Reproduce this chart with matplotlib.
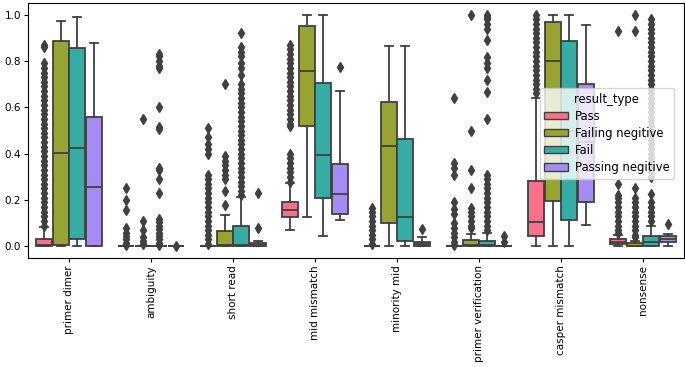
import colorsys

import matplotlib
matplotlib.use("Agg")
import matplotlib.pyplot as plt
import matplotlib.patches as mpatches
import numpy as np
import seaborn as sns

categories = ["primer dimer", "ambiguity", "short read", "mid mismatch",
              "minority mid", "primer verification", "casper mismatch", "nonsense"]
hues = ["Pass", "Failing negitive", "Fail", "Passing negitive"]

# box stats per hue, one value per category
pass_q1 = [0.0, 0.0, 0.0, 0.129, 0.0, 0.0, 0.043, 0.012]
pass_med = [0.005, 0.0, 0.0, 0.155, 0.0, 0.0, 0.105, 0.02]
pass_q3 = [0.033, 0.0, 0.0, 0.19, 0.0, 0.0, 0.283, 0.033]
pass_lo = [0.0, 0.0, 0.0, 0.072, 0.0, 0.0, 0.0, 0.0]
pass_hi = [0.085, 0.0, 0.0, 0.273, 0.0, 0.0, 0.639, 0.05]

failneg_q1 = [0.004, 0.0, 0.0, 0.521, 0.103, 0.003, 0.198, 0.0]
failneg_med = [0.405, 0.0, 0.005, 0.757, 0.435, 0.005, 0.80, 0.003]
failneg_q3 = [0.888, 0.0, 0.065, 0.951, 0.622, 0.027, 0.97, 0.014]
failneg_lo = [0.0, 0.0, 0.0, 0.125, 0.0, 0.0, 0.0, 0.0]
failneg_hi = [0.974, 0.0, 0.137, 1.0, 0.865, 0.053, 1.0, 0.025]

fail_q1 = [0.033, 0.0, 0.0, 0.208, 0.025, 0.003, 0.112, 0.0]
fail_med = [0.424, 0.0, 0.005, 0.395, 0.125, 0.005, 0.5, 0.02]
fail_q3 = [0.855, 0.0, 0.086, 0.707, 0.464, 0.025, 0.884, 0.046]
fail_lo = [0.0, 0.0, 0.0, 0.046, 0.0, 0.0, 0.0, 0.0]
fail_hi = [0.988, 0.0, 0.215, 1.0, 0.865, 0.057, 1.0, 0.09]

passneg_q1 = [0.003, 0.0, 0.0, 0.141, 0.003, 0.0, 0.191, 0.017]
passneg_med = [0.256, 0.0, 0.005, 0.227, 0.01, 0.0, 0.45, 0.03]
passneg_q3 = [0.56, 0.0, 0.014, 0.355, 0.02, 0.0, 0.70, 0.043]
passneg_lo = [0.0, 0.0, 0.0, 0.112, 0.0, 0.0, 0.093, 0.0]
passneg_hi = [0.879, 0.0, 0.025, 0.672, 0.039, 0.0, 0.953, 0.055]

# outliers
pass_fliers = [
    [0.87, 0.86, 0.79, 0.77, 0.75, 0.73, 0.71, 0.69, 0.67, 0.65, 0.63, 0.61, 0.59,
     0.57, 0.55, 0.53, 0.51, 0.49, 0.47, 0.45, 0.43, 0.41, 0.39, 0.37, 0.35, 0.33,
     0.31, 0.29, 0.27, 0.25, 0.23, 0.21, 0.19, 0.17, 0.15, 0.13, 0.11, 0.09],
    [0.25, 0.2, 0.155, 0.08, 0.06, 0.045, 0.03, 0.015, 0.005],
    [0.51, 0.47, 0.44, 0.42, 0.40, 0.31, 0.29, 0.27, 0.25, 0.23, 0.21, 0.19, 0.17,
     0.15, 0.13, 0.11, 0.09, 0.07, 0.05, 0.03, 0.01],
    [0.87, 0.85, 0.83, 0.81, 0.79, 0.77, 0.75, 0.73, 0.71, 0.69, 0.67, 0.65, 0.63,
     0.61, 0.59, 0.57, 0.55, 0.53, 0.52, 0.40, 0.38, 0.36, 0.34, 0.32, 0.30, 0.28],
    [0.165, 0.15, 0.13, 0.11, 0.09, 0.07, 0.05, 0.03, 0.01],
    [0.64, 0.36, 0.34, 0.31, 0.19, 0.16, 0.14, 0.10, 0.08, 0.06, 0.04, 0.02, 0.005],
    [1.0, 0.98, 0.96, 0.94, 0.92, 0.90, 0.88, 0.86, 0.84, 0.82, 0.80, 0.78, 0.76,
     0.74, 0.72, 0.70, 0.68, 0.66],
    [0.93, 0.27, 0.22, 0.21, 0.19, 0.17, 0.15, 0.13, 0.11, 0.09, 0.07, 0.06],
]
failneg_fliers = [
    [],
    [0.55, 0.11, 0.07, 0.04, 0.025, 0.01],
    [0.70, 0.39, 0.37, 0.35, 0.33, 0.31, 0.29, 0.24, 0.18],
    [],
    [],
    [1.0, 0.50, 0.33, 0.25, 0.165, 0.15, 0.13, 0.11, 0.09, 0.08],
    [],
    [1.0, 0.93, 0.25, 0.21, 0.19, 0.17, 0.15, 0.13, 0.11, 0.09, 0.07, 0.05, 0.04],
]
fail_fliers = [
    [],
    [0.83, 0.82, 0.80, 0.78, 0.77, 0.60, 0.515, 0.505, 0.34, 0.33, 0.29, 0.23, 0.12,
     0.105, 0.09, 0.075, 0.06, 0.045, 0.03, 0.015, 0.005],
    [0.92, 0.86, 0.84, 0.82, 0.79, 0.77, 0.74, 0.70, 0.68, 0.66, 0.64, 0.62, 0.60,
     0.58, 0.56, 0.54, 0.52, 0.50, 0.48, 0.46, 0.44, 0.42, 0.40, 0.38, 0.36, 0.34,
     0.32, 0.30, 0.28, 0.26, 0.24, 0.22],
    [],
    [],
    [1.0, 0.99, 0.98, 0.96, 0.94, 0.89, 0.815, 0.79, 0.77, 0.716, 0.665, 0.55, 0.31,
     0.29, 0.27, 0.25, 0.23, 0.21, 0.19, 0.17, 0.15, 0.13, 0.11, 0.09, 0.07],
    [],
    [0.98, 0.96, 0.94, 0.92, 0.90, 0.88, 0.86, 0.84, 0.82, 0.80, 0.78, 0.76, 0.74,
     0.72, 0.70, 0.68, 0.66, 0.64, 0.62, 0.60, 0.58, 0.56, 0.54, 0.52, 0.50, 0.48,
     0.46, 0.44, 0.42, 0.40, 0.38, 0.36, 0.34, 0.32, 0.30, 0.224, 0.19, 0.17, 0.15,
     0.13, 0.11],
]
passneg_fliers = [
    [],
    [0.0],
    [0.23, 0.08],
    [0.775],
    [0.075],
    [0.045, 0.02],
    [],
    [0.095],
]

stats_by_hue = [
    (pass_q1, pass_med, pass_q3, pass_lo, pass_hi, pass_fliers),
    (failneg_q1, failneg_med, failneg_q3, failneg_lo, failneg_hi, failneg_fliers),
    (fail_q1, fail_med, fail_q3, fail_lo, fail_hi, fail_fliers),
    (passneg_q1, passneg_med, passneg_q3, passneg_lo, passneg_hi, passneg_fliers),
]

# husl palette, dark gray outlines like seaborn's boxplot
palette = sns.color_palette("husl", 4)
lum = min(colorsys.rgb_to_hls(*c)[1] for c in palette) * 0.6
gray = (lum, lum, lum)

fig = plt.figure(figsize=(6.85, 3.67), dpi=100)
ax = fig.add_axes([28 / 685, 1 - 258 / 367, 656 / 685, 255 / 367])

x = np.arange(len(categories))
n = len(hues)
each = 0.8 / n
offsets = np.linspace(-0.4 + each / 2, 0.4 - each / 2, n)

for i, (q1, med, q3, lo, hi, fl) in enumerate(stats_by_hue):
    stats = [dict(q1=q1[j], med=med[j], q3=q3[j], whislo=lo[j], whishi=hi[j],
                  fliers=fl[j]) for j in range(len(categories))]
    ax.bxp(stats, positions=x + offsets[i], widths=each * 0.98, patch_artist=True,
           showfliers=True, manage_ticks=False,
           boxprops=dict(facecolor=palette[i], edgecolor=gray, linewidth=1.3),
           medianprops=dict(color=gray, linewidth=1.3),
           whiskerprops=dict(color=gray, linewidth=1.3),
           capprops=dict(color=gray, linewidth=1.3),
           flierprops=dict(marker="d", markerfacecolor=gray, markeredgecolor=gray,
                           markersize=5, linestyle="none"))

ax.set_xlim(-0.5, len(categories) - 0.5)
ax.set_ylim(-0.05, 1.05)
ax.set_xticks(x)
ax.set_xticklabels(categories, rotation=90, fontsize=7.5)
ax.set_yticks([0.0, 0.2, 0.4, 0.6, 0.8, 1.0])
ax.set_yticklabels(["0.0", "0.2", "0.4", "0.6", "0.8", "1.0"], fontsize=7.5)
ax.tick_params(length=3, width=0.8, pad=2)
for spine in ax.spines.values():
    spine.set_linewidth(0.8)

handles = [mpatches.Patch(facecolor=palette[i], edgecolor=gray, linewidth=1.0, label=h)
           for i, h in enumerate(hues)]
ax.legend(handles=handles, title="result_type", fontsize=8.4, title_fontsize=8.4,
          loc="upper left", bbox_to_anchor=(0.78, 0.667), borderaxespad=0,
          framealpha=0.8, handlelength=2.0, handleheight=0.6, borderpad=0.4,
          labelspacing=0.35, handletextpad=0.6)

fig.savefig("out.png", dpi=100)
